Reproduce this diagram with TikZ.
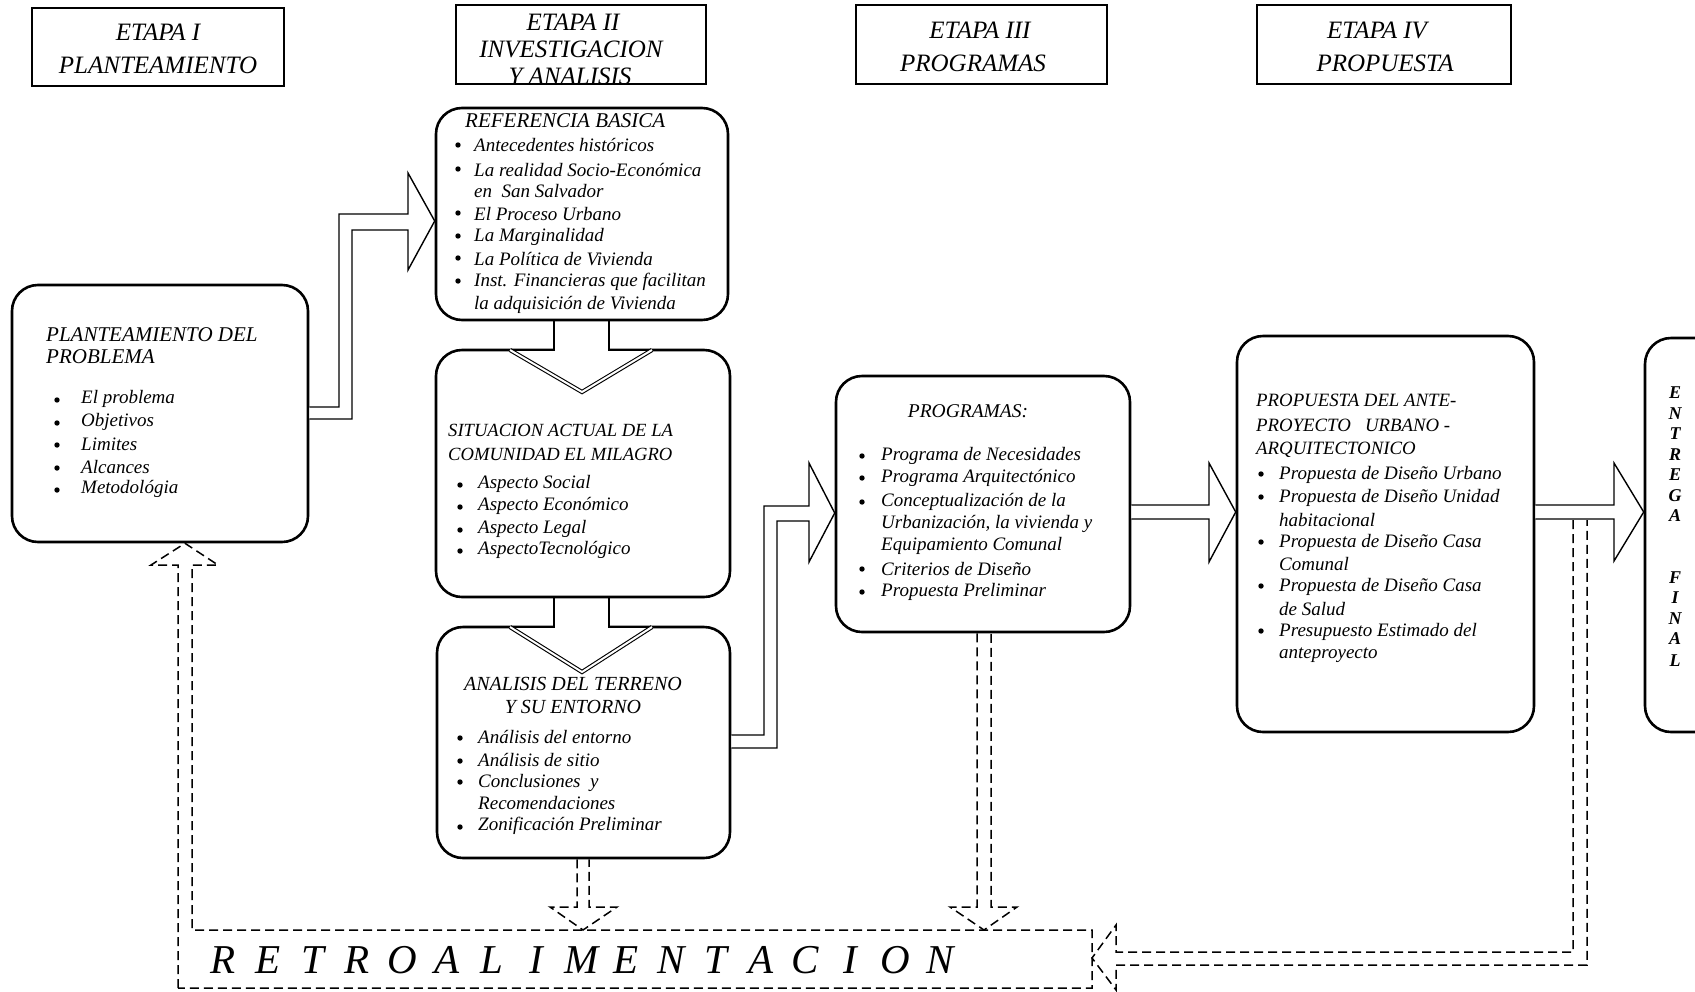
\documentclass[tikz,border=0pt]{standalone}
\usepackage{fontspec}
\setmainfont{Liberation Serif}
\newcommand\mybul[2]{\fill (#1,#2) circle (2.7pt);}
\begin{document}
\begin{tikzpicture}[x=1pt,y=-1pt,
  rbox/.style={draw, line width=2.6pt, rounded corners=26pt, inner sep=0pt},
  ebox/.style={draw, line width=1.4pt, inner sep=0pt},
  hd/.style={font=\fontsize{25}{27}\selectfont\itshape, inner sep=0pt},
  ttl/.style={font=\fontsize{19.5}{22}\selectfont\itshape, inner sep=0pt, anchor=west},
  itm/.style={font=\fontsize{19}{21}\selectfont\itshape, inner sep=0pt, anchor=west},
  blk/.style={line width=1.4pt, line join=miter},
  dbl/.style={double, double distance=2pt, line width=1.1pt},
  fb/.style={line width=1.5pt, dash pattern=on 9pt off 5pt},
  retro/.style={font=\fontsize{41}{41}\selectfont\itshape, inner sep=0pt},
  ent/.style={font=\fontsize{18}{18}\selectfont\bfseries\itshape, inner sep=0pt}]
\clip (0,0) rectangle (1695,991);
\fill[white] (0,0) rectangle (1695,991);

% ---------- ETAPA headers
\node[ebox, minimum width=252pt, minimum height=78pt] (e1) at (158,47) {};
\node[hd] (e1a) at (158,32) {ETAPA I};
\node[hd] (e1b) at (158,65) {PLANTEAMIENTO};
\node[ebox, minimum width=250pt, minimum height=79pt] (e2) at (581,44.5) {};
\node[hd] (e2a) at (573,22) {ETAPA II};
\node[hd] (e2b) at (571,49) {INVESTIGACION};
\node[hd] (e2c) at (570,76) {Y ANALISIS};
\node[ebox, minimum width=251pt, minimum height=79pt] (e3) at (981.5,44.5) {};
\node[hd] (e3a) at (980,30) {ETAPA III};
\node[hd] (e3b) at (973,63) {PROGRAMAS};
\node[ebox, minimum width=254pt, minimum height=79pt] (e4) at (1384,44.5) {};
\node[hd] (e4a) at (1377,30) {ETAPA IV};
\node[hd] (e4b) at (1385,63) {PROPUESTA};

% ---------- main boxes
\node[rbox, minimum width=296pt, minimum height=257pt] (plan) at (160,413.5) {};
\node[rbox, minimum width=292pt, minimum height=212pt] (ref) at (582,214) {};
\node[rbox, minimum width=294pt, minimum height=247pt] (sit) at (583,473.5) {};
\node[rbox, minimum width=293pt, minimum height=231pt] (ana) at (583.5,742.5) {};
\node[rbox, minimum width=294pt, minimum height=256pt] (prog) at (983,504) {};
\node[rbox, minimum width=297pt, minimum height=396pt] (prop) at (1385.5,534) {};
\node[rbox, minimum width=110pt, minimum height=394pt] (entb) at (1700,535) {};
\node[minimum width=914pt, minimum height=58pt, inner sep=0pt] (retrob) at (635,959) {};

% ---------- Planteamiento del problema
\node[ttl, font=\fontsize{21}{22}\selectfont\itshape] (p0) at (46,335) {PLANTEAMIENTO DEL};
\node[ttl, font=\fontsize{21}{22}\selectfont\itshape] (p1) at (46,357) {PROBLEMA};
\node[itm] (p2) at (81,399) {El problema};   \mybul{57}{400}
\node[itm] (p3) at (81,422) {Objetivos};     \mybul{57}{423}
\node[itm] (p4) at (81,444) {Limites};       \mybul{57}{445}
\node[itm] (p5) at (81,467) {Alcances};      \mybul{57}{468}
\node[itm] (p6) at (81,489) {Metodológia};   \mybul{57}{490}

% ---------- Referencia basica
\node[ttl, font=\fontsize{21}{22}\selectfont\itshape] (r0) at (465,121) {REFERENCIA BASICA};
\node[itm] (r1) at (474,145) {Antecedentes históricos};        \mybul{458}{145}
\node[itm] (r2) at (474,170) {La realidad Socio-Económica};    \mybul{458}{169}
\node[itm] (r3) at (474,191) {en\ \ San Salvador};
\node[itm] (r4) at (474,214) {El Proceso Urbano};              \mybul{458}{213}
\node[itm] (r5) at (474,237) {La Marginalidad};                \mybul{458}{236}
\node[itm] (r6) at (474,259) {La Política de Vivienda};        \mybul{458}{258}
\node[itm] (r7) at (474,282) {Inst. Financieras que facilitan};\mybul{458}{281}
\node[itm] (r8) at (474,305) {la adquisición de Vivienda};

% ---------- Situacion actual
\node[ttl, font=\fontsize{18.6}{22}\selectfont\itshape] (s0) at (448,430) {SITUACION ACTUAL DE LA};
\node[ttl, font=\fontsize{18.6}{22}\selectfont\itshape] (s1) at (448,454) {COMUNIDAD EL MILAGRO};
\node[itm] (s2) at (478,484) {Aspecto Social};      \mybul{460}{485}
\node[itm] (s3) at (478,506) {Aspecto Económico};   \mybul{460}{507}
\node[itm] (s4) at (478,529) {Aspecto Legal};       \mybul{460}{530}
\node[itm] (s5) at (478,550) {AspectoTecnológico};  \mybul{460}{551}

% ---------- Analisis del terreno
\node[ttl, anchor=center, font=\fontsize{20}{22}\selectfont\itshape] (a0) at (573,684) {ANALISIS DEL TERRENO};
\node[ttl, anchor=center, font=\fontsize{20}{22}\selectfont\itshape] (a1) at (573,707) {Y SU ENTORNO};
\node[itm] (a2) at (478,737) {Análisis del entorno};     \mybul{460}{738}
\node[itm] (a3) at (478,760) {Análisis de sitio};        \mybul{460}{761}
\node[itm] (a4) at (478,783) {Conclusiones\ \ y};        \mybul{460}{782}
\node[itm] (a5) at (478,803) {Recomendaciones};
\node[itm] (a6) at (478,826) {Zonificación Preliminar};  \mybul{460}{827}

% ---------- Programas
\node[ttl, anchor=center] (g0) at (968,411) {PROGRAMAS:};
\node[itm] (g1) at (881,456) {Programa de Necesidades};      \mybul{862}{456}
\node[itm] (g2) at (881,478) {Programa Arquitectónico};      \mybul{862}{478}
\node[itm] (g3) at (881,502) {Conceptualización de la};      \mybul{862}{502}
\node[itm] (g4) at (881,524) {Urbanización, la vivienda y};
\node[itm] (g5) at (881,546) {Equipamiento Comunal};
\node[itm] (g6) at (881,569) {Criterios de Diseño};          \mybul{862}{569}
\node[itm] (g7) at (881,592) {Propuesta Preliminar};         \mybul{862}{592}

% ---------- Propuesta
\node[ttl, font=\fontsize{18.8}{22}\selectfont\itshape] (q0) at (1256,400) {PROPUESTA DEL ANTE-};
\node[ttl, font=\fontsize{18.8}{22}\selectfont\itshape] (q1) at (1256,425) {PROYECTO\ \ \ URBANO -};
\node[ttl, font=\fontsize{18.8}{22}\selectfont\itshape] (q2) at (1256,450) {ARQUITECTONICO};
\node[itm] (q3) at (1279,475) {Propuesta de Diseño Urbano};  \mybul{1261}{474}
\node[itm] (q4) at (1279,498) {Propuesta de Diseño Unidad};  \mybul{1261}{497}
\node[itm] (q5) at (1279,520) {habitacional};
\node[itm] (q6) at (1279,543) {Propuesta de Diseño Casa};    \mybul{1261}{542}
\node[itm] (q7) at (1279,564) {Comunal};
\node[itm] (q8) at (1279,587) {Propuesta de Diseño Casa};    \mybul{1261}{586}
\node[itm] (q9) at (1279,609) {de Salud};
\node[itm] (q10) at (1279,632) {Presupuesto Estimado del};   \mybul{1261}{631}
\node[itm] (q11) at (1279,655) {anteproyecto};

% ---------- Entrega final
\foreach \l/\yy [count=\i] in {E/393,N/413.5,T/434,R/454.5,E/475,G/495.5,A/516,F/577.5,I/598,N/618.5,A/639,L/661}
  \node[ent] (ef\i) at (1675,\yy) {\l};

% ---------- solid block arrows
% plan -> ref
\draw[blk, fill=white] (plan.east |- 0,407) -- (339,407) -- (339,214) -- (408,214) -- (408,173)
  -- (ref.west |- 0,221) -- (408,270) -- (408,230) -- (352,230) -- (352,419) -- (plan.east |- 0,419);
% ref -> sit
\path[fill=white] (554,322) -- (554,350) -- (510,350) -- (582,392) -- (652,350) -- (609,350) -- (609,322) -- cycle;
\draw[blk] (554,0 |- ref.south) -- (554,350) -- (510,350);
\draw[blk] (609,0 |- ref.south) -- (609,350) -- (652,350);
\draw[dbl] (510,350) -- (582,392) -- (652,350);
% sit -> ana
\path[fill=white] (554,599) -- (554,627) -- (510,627) -- (582,672) -- (652,627) -- (609,627) -- (609,599) -- cycle;
\draw[blk] (554,0 |- sit.south) -- (554,627) -- (510,627);
\draw[blk] (609,0 |- sit.south) -- (609,627) -- (652,627);
\draw[dbl] (510,627) -- (582,672) -- (652,627);
% ana -> prog
\draw[blk, fill=white] (ana.east |- 0,735) -- (764,735) -- (764,506) -- (809,506) -- (809,463)
  -- (prog.west |- 0,513) -- (809,562) -- (809,521) -- (777,521) -- (777,748) -- (ana.east |- 0,748);
% prog -> prop
\draw[blk, fill=white] (prog.east |- 0,505) -- (1209,505) -- (1209,463) -- (prop.west |- 0,512)
  -- (1209,562) -- (1209,519) -- (prog.east |- 0,519);
% prop -> entrega
\draw[blk, fill=white] (prop.east |- 0,505) -- (1614,505) -- (1614,463) -- (entb.west |- 0,512)
  -- (1614,561) -- (1614,519) -- (prop.east |- 0,519);

% ---------- feedback (dashed)
% retro box with arrow up to plan
\draw[fb] (178,988) -- (178,565) -- (151,565) -- (plan.south -| 185,0) -- (218,565) -- (192,565)
  -- (192,930) -- (1092,930) -- (1092,988) -- cycle;
% ana -> retro
\draw[fb] (577,0 |- ana.south) -- (577,907) -- (550,907) -- (583,930) -- (617,907) -- (589,907) -- (589,0 |- ana.south);
% prog -> retro
\draw[fb] (977,0 |- prog.south) -- (977,907) -- (950,907) -- (984,930) -- (1017,907) -- (991,907) -- (991,0 |- prog.south);
% prop/entrega -> retro
\draw[fb] (1573,520) -- (1573,952) -- (1116,952) -- (1116,925) -- (1092,958) -- (1116,990) -- (1116,965) -- (1587,965) -- (1587,520);

% ---------- RETROALIMENTACION
\foreach \l [count=\i] in {R,E,T,R,O,A,L,I,M,E,N,T,A,C,I,O,N}
  \node[retro] (rt\i) at ({223+(\i-1)*44.8},960) {\l};
\end{tikzpicture}
\end{document}
